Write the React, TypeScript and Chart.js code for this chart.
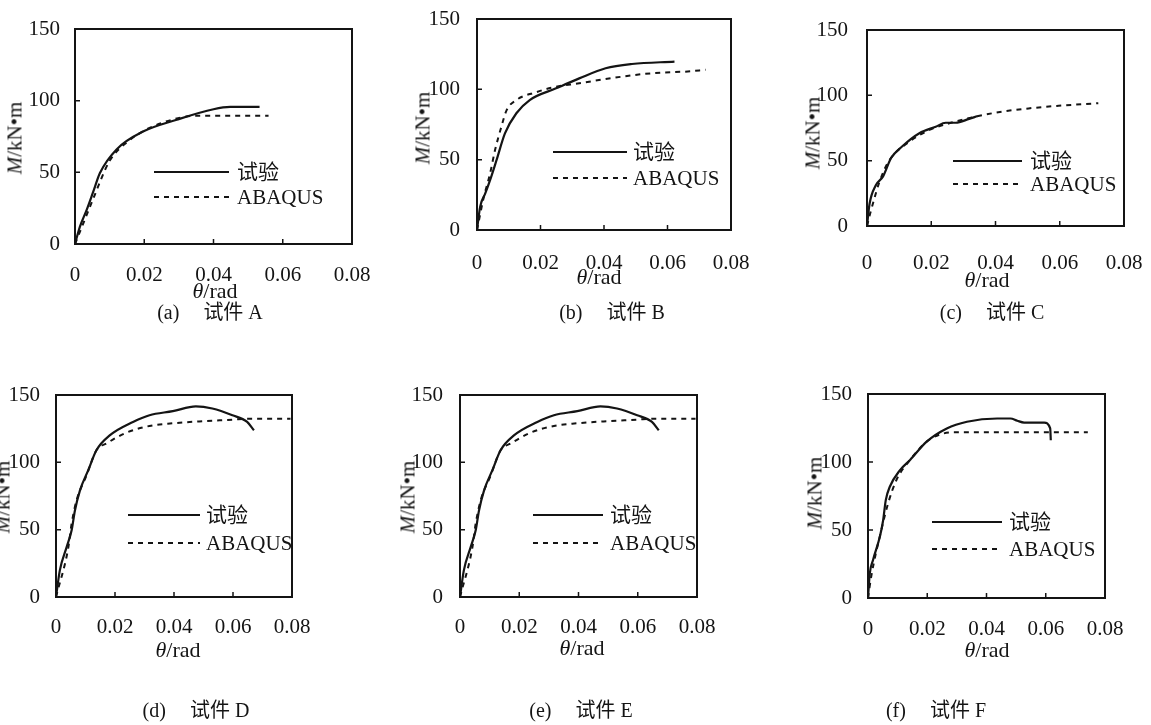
import React, { useEffect, useRef } from "react";
import { Chart, registerables } from "chart.js";
Chart.register(...registerables);

// ---------- data ----------
const xTicks = [0, 0.02, 0.04, 0.06, 0.08];
const xTickLabels = ["0", "0.02", "0.04", "0.06", "0.08"];
const yTicks = [0, 50, 100, 150];
const yTickLabels = ["0", "50", "100", "150"];
const seriesNames = ["试验", "ABAQUS"];

const thetaA_test = [0, 0.0014, 0.0034, 0.0053, 0.0072, 0.012, 0.0198, 0.0294, 0.04, 0.0448, 0.0533];
const momentA_test = [0, 12, 24, 36.7, 49.5, 66, 78.6, 86.7, 94, 95.6, 95.6];
const thetaA_abaqus = [0, 0.002, 0.005, 0.01, 0.015, 0.0207, 0.028, 0.035, 0.045, 0.0559];
const momentA_abaqus = [0, 12, 30, 58, 71, 80, 86.7, 89.5, 89.5, 89.5];

const thetaB_test = [0, 0.001, 0.0026, 0.0045, 0.0062, 0.0088, 0.0124, 0.0166, 0.0249, 0.0322, 0.0405, 0.0488, 0.0622];
const momentB_test = [0, 16.6, 26, 38, 50, 68.7, 83, 92.4, 100.7, 107.8, 115, 118, 119.7];
const thetaB_abaqus = [0, 0.002, 0.0041, 0.0057, 0.0075, 0.0093, 0.0124, 0.0187, 0.0239, 0.0322, 0.0425, 0.0529, 0.059, 0.0664, 0.072];
const momentB_abaqus = [0, 22, 40, 57, 72, 85, 92.4, 98, 101.4, 104.3, 108, 111, 112, 112.7, 113.9];

const thetaC_test = [0, 0.0008, 0.0027, 0.005, 0.0075, 0.011, 0.0163, 0.0214, 0.0245, 0.0276, 0.0318, 0.0343];
const momentC_test = [0, 17, 31, 38, 52, 61, 71, 76, 79, 79, 82, 84];
const thetaC_abaqus = [0, 0.001, 0.0024, 0.0039, 0.007, 0.0132, 0.0194, 0.0256, 0.0338, 0.042, 0.0503, 0.0596, 0.072];
const momentC_abaqus = [0, 9.7, 22, 34, 50.5, 64.5, 73.5, 78.6, 83.7, 87.5, 90, 92, 94];

const thetaD_test = [0, 0.0013, 0.0036, 0.0053, 0.0064, 0.0081, 0.0109, 0.0137, 0.0182, 0.0261, 0.0317, 0.0396, 0.0474, 0.053, 0.0598, 0.0648, 0.0671];
const momentD_test = [0, 19.8, 37, 49.5, 64, 79, 94, 109, 120, 130, 135, 138, 141.6, 140, 135, 130, 123.8];
const thetaD_abaqus = [0, 0.0042, 0.0053, 0.007, 0.0103, 0.0137, 0.0171, 0.0238, 0.0317, 0.0396, 0.0485, 0.0598, 0.0654, 0.0795];
const momentD_abaqus = [0, 37, 54.5, 72, 90, 109, 114, 122, 127, 129, 130.4, 131.7, 132.4, 132.4];

const thetaE_test = [0, 0.0013, 0.0036, 0.0053, 0.0064, 0.0081, 0.0109, 0.0137, 0.0182, 0.0261, 0.0317, 0.0396, 0.0474, 0.053, 0.0598, 0.0648, 0.0671];
const momentE_test = [0, 19.8, 37, 49.5, 64, 79, 94, 109, 120, 130, 135, 138, 141.6, 140, 135, 130, 123.8];
const thetaE_abaqus = [0, 0.0042, 0.0053, 0.007, 0.0103, 0.0137, 0.0171, 0.0238, 0.0317, 0.0396, 0.0485, 0.0598, 0.0654, 0.0795];
const momentE_abaqus = [0, 37, 54.5, 72, 90, 109, 114, 122, 127, 129, 130.4, 131.7, 132.4, 132.4];

const thetaF_test = [0, 0.0006, 0.0017, 0.004, 0.0051, 0.006, 0.0074, 0.0108, 0.0142, 0.0198, 0.0266, 0.0334, 0.0436, 0.0481, 0.0504, 0.0527, 0.0595, 0.0615, 0.0617];
const momentF_test = [0, 18, 28, 45, 57, 72, 82, 94, 101.5, 115, 124.7, 129.6, 132, 132, 130.3, 129, 129, 124.7, 116];
const thetaF_abaqus = [0, 0.0011, 0.0045, 0.0068, 0.0096, 0.0142, 0.0198, 0.0255, 0.03, 0.0742];
const momentF_abaqus = [0, 16, 50, 69.7, 86.8, 101.5, 115, 121, 121.8, 121.8];

// ---------- layout ----------
const SERIF = '"Liberation Serif", "Times New Roman", "Noto Sans CJK SC", serif';
const INK = "#141414";

type Spec = {
  tag: string;
  name: string;
  tx: number[]; ty: number[]; ax: number[]; ay: number[];
  box: { l: number; t: number; r: number; b: number };
  yPad: number; xPad: number;
  yTitle: [number, number]; xTitle: [number, number];
  legend: { x1: number; x2: number; y1: number; y2: number; tx: number };
  caption: [number, number];
};

const panels: Spec[] = [
  { tag: "(a)", name: "试件 A", tx: thetaA_test, ty: momentA_test, ax: thetaA_abaqus, ay: momentA_abaqus,
    box: { l: 75, t: 29, r: 352, b: 244 }, yPad: 15, xPad: 19, yTitle: [15, 138], xTitle: [215, 291],
    legend: { x1: 154, x2: 229, y1: 172, y2: 197, tx: 237 }, caption: [210, 312] },
  { tag: "(b)", name: "试件 B", tx: thetaB_test, ty: momentB_test, ax: thetaB_abaqus, ay: momentB_abaqus,
    box: { l: 477, t: 19, r: 731, b: 230 }, yPad: 17, xPad: 21, yTitle: [423, 128], xTitle: [599, 277],
    legend: { x1: 553, x2: 627, y1: 152, y2: 178, tx: 633 }, caption: [612, 312] },
  { tag: "(c)", name: "试件 C", tx: thetaC_test, ty: momentC_test, ax: thetaC_abaqus, ay: momentC_abaqus,
    box: { l: 867, t: 30, r: 1124, b: 226 }, yPad: 19, xPad: 25, yTitle: [813, 133], xTitle: [987, 280],
    legend: { x1: 953, x2: 1022, y1: 161, y2: 184, tx: 1030 }, caption: [992, 312] },
  { tag: "(d)", name: "试件 D", tx: thetaD_test, ty: momentD_test, ax: thetaD_abaqus, ay: momentD_abaqus,
    box: { l: 56, t: 395, r: 292, b: 597 }, yPad: 16, xPad: 18, yTitle: [3, 497], xTitle: [178, 650],
    legend: { x1: 128, x2: 200, y1: 515, y2: 543, tx: 206 }, caption: [196, 710] },
  { tag: "(e)", name: "试件 E", tx: thetaE_test, ty: momentE_test, ax: thetaE_abaqus, ay: momentE_abaqus,
    box: { l: 460, t: 395, r: 697, b: 597 }, yPad: 17, xPad: 18, yTitle: [408, 497], xTitle: [582, 648],
    legend: { x1: 533, x2: 603, y1: 515, y2: 543, tx: 610 }, caption: [581, 710] },
  { tag: "(f)", name: "试件 F", tx: thetaF_test, ty: momentF_test, ax: thetaF_abaqus, ay: momentF_abaqus,
    box: { l: 868, t: 394, r: 1105, b: 598 }, yPad: 16, xPad: 19, yTitle: [815, 493], xTitle: [987, 650],
    legend: { x1: 932, x2: 1002, y1: 522, y2: 549, tx: 1009 }, caption: [936, 710] },
];

// canvas margins around the plot box (large enough to contain Chart.js' label padding)
const PL = 80, PT = 60, PR = 70, PB = 70;

const framePlugin = {
  id: "frame",
  afterDatasetsDraw(chart: any) {
    const { ctx, chartArea: a, scales } = chart;
    ctx.save();
    ctx.strokeStyle = INK;
    ctx.lineWidth = 2;
    ctx.strokeRect(a.left, a.top, a.right - a.left, a.bottom - a.top);
    ctx.lineWidth = 1.5;
    ctx.beginPath();
    xTicks.slice(1, -1).forEach((v) => {
      const x = scales.x.getPixelForValue(v);
      ctx.moveTo(x, a.bottom);
      ctx.lineTo(x, a.bottom - 5);
    });
    yTicks.slice(1, -1).forEach((v) => {
      const y = scales.y.getPixelForValue(v);
      ctx.moveTo(a.left, y);
      ctx.lineTo(a.left + 5, y);
    });
    ctx.stroke();
    ctx.restore();
  },
};

function makeLegendPlugin(p: Spec, cl: number, ct: number) {
  return {
    id: "insideLegend",
    afterDraw(chart: any) {
      const { ctx } = chart;
      const ys = [p.legend.y1, p.legend.y2];
      ctx.save();
      chart.data.datasets.forEach((ds: any, i: number) => {
        const y = ys[i] - ct;
        ctx.strokeStyle = INK;
        ctx.lineWidth = ds.borderWidth;
        ctx.setLineDash(ds.borderDash || []);
        ctx.beginPath();
        ctx.moveTo(p.legend.x1 - cl, y);
        ctx.lineTo(p.legend.x2 - cl, y);
        ctx.stroke();
        ctx.setLineDash([]);
        ctx.fillStyle = INK;
        ctx.font = `21px ${SERIF}`;
        ctx.textBaseline = "middle";
        ctx.textAlign = "left";
        ctx.fillText(ds.label, p.legend.tx - cl, y + 1);
      });
      ctx.restore();
    },
  };
}

function Panel({ p }: { p: Spec }) {
  const ref = useRef<HTMLCanvasElement>(null);
  const cl = p.box.l - PL;
  const ct = p.box.t - PT;
  const cw = p.box.r - p.box.l + PL + PR;
  const ch = p.box.b - p.box.t + PT + PB;

  useEffect(() => {
    const pts = (xs: number[], ys: number[]) => xs.map((x, i) => ({ x, y: ys[i] }));
    const tickFont = { family: SERIF, size: 21 };
    const chart = new Chart(ref.current as HTMLCanvasElement, {
      type: "scatter",
      data: {
        datasets: [
          { label: seriesNames[0], data: pts(p.tx, p.ty), showLine: true, borderColor: INK, borderWidth: 2.2,
            pointRadius: 0, cubicInterpolationMode: "monotone", fill: false },
          { label: seriesNames[1], data: pts(p.ax, p.ay), showLine: true, borderColor: INK, borderWidth: 2,
            borderDash: [5, 5], pointRadius: 0, cubicInterpolationMode: "monotone", fill: false },
        ],
      },
      options: {
        responsive: false,
        animation: false,
        layout: { padding: { left: 0, top: PT, right: PR, bottom: 0 } },
        plugins: { legend: { display: false }, tooltip: { enabled: false } },
        scales: {
          x: {
            type: "linear", min: 0, max: 0.08,
            afterBuildTicks: (s: any) => { s.ticks = xTicks.map((v) => ({ value: v })); },
            afterFit: (s: any) => { s.height = PB; },
            grid: { display: false, drawTicks: false },
            border: { display: false },
            ticks: { padding: p.xPad, font: tickFont, color: INK, maxRotation: 0, autoSkip: false,
              callback: (_v: any, i: number) => xTickLabels[i] },
          },
          y: {
            type: "linear", min: 0, max: 150,
            afterBuildTicks: (s: any) => { s.ticks = yTicks.map((v) => ({ value: v })); },
            afterFit: (s: any) => { s.width = PL; },
            grid: { display: false, drawTicks: false },
            border: { display: false },
            ticks: { padding: p.yPad, font: tickFont, color: INK, autoSkip: false,
              callback: (_v: any, i: number) => yTickLabels[i] },
          },
        },
      } as any,
      plugins: [framePlugin, makeLegendPlugin(p, cl, ct)],
    });
    return () => chart.destroy();
  }, []);

  const textBase: React.CSSProperties = {
    position: "absolute", whiteSpace: "nowrap", fontFamily: SERIF, color: INK, lineHeight: 1,
  };

  return (
    <>
      <canvas ref={ref} width={cw} height={ch}
        style={{ position: "absolute", left: cl, top: ct, width: cw, height: ch }} />
      <div style={{ ...textBase, fontSize: 21, left: p.yTitle[0], top: p.yTitle[1],
        transform: "translate(-50%,-50%) rotate(-90deg)" }}>
        <i>M</i>/kN•m
      </div>
      <div style={{ ...textBase, fontSize: 22, left: p.xTitle[0], top: p.xTitle[1],
        transform: "translate(-50%,-50%)" }}>
        <i>θ</i>/rad
      </div>
      <div style={{ ...textBase, fontSize: 20, left: p.caption[0], top: p.caption[1],
        transform: "translate(-50%,-50%)" }}>
        {p.tag}<span style={{ marginLeft: 24 }}>{p.name}</span>
      </div>
    </>
  );
}

export default function App() {
  return (
    <div style={{ position: "absolute", left: 0, top: 0, width: 1151, height: 725, background: "#fff", overflow: "hidden" }}>
      {panels.map((p) => <Panel key={p.tag} p={p} />)}
    </div>
  );
}
